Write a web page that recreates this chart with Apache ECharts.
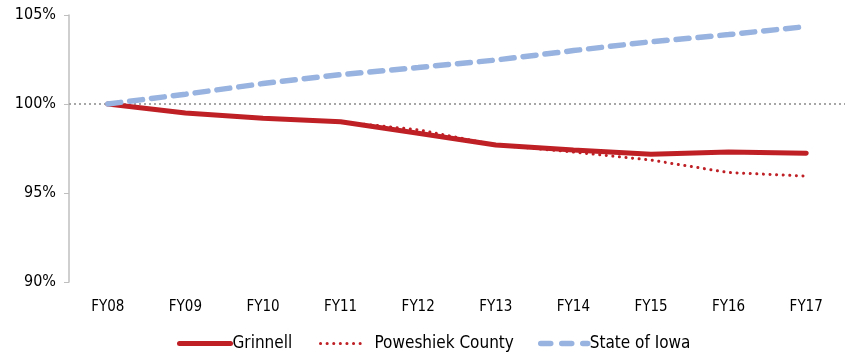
<!DOCTYPE html>
<html>
<head>
<meta charset="utf-8">
<script src="https://cdn.jsdelivr.net/npm/echarts@6/dist/echarts.min.js"></script>
<style>
  html, body { margin: 0; padding: 0; background: #fff; }
  #chart { width: 847px; height: 356px; }
</style>
</head>
<body>
<div id="chart"></div>
<script>
// Fiscal years on the category axis
const years = ['FY08', 'FY09', 'FY10', 'FY11', 'FY12', 'FY13', 'FY14', 'FY15', 'FY16', 'FY17'];

// Index values, FY08 = 100%
const grinnell = [100, 99.5, 99.2, 99.0, 98.36, 97.7, 97.42, 97.18, 97.3, 97.23];
const poweshiek = [100, 99.5, 99.2, 99.0, 98.55, 97.7, 97.3, 96.85, 96.15, 95.95];
const stateOfIowa = [100, 100.55, 101.15, 101.65, 102.05, 102.47, 103.0, 103.5, 103.9, 104.35];

// Value-axis ticks
const yTicks = [90, 95, 100, 105];
const baseline = 100;

const font = "'Liberation Sans Narrow', 'DejaVu Sans Condensed', 'Noto Sans', sans-serif";
const RED = '#BE2026';
const BLUE = '#98B3DF';

// One legend entry per component so each can be placed on its own
function legendEntry(name, left, iconWidth, lineStyle, textPad) {
  return {
    left: left,
    top: 335,
    padding: 0,
    itemWidth: iconWidth,
    itemHeight: 10,
    itemStyle: { opacity: 0 },
    data: [{ name: name, lineStyle: lineStyle, itemStyle: { opacity: 0 } }],
    textStyle: { fontSize: 17, color: '#000', fontFamily: font, padding: [0, 0, 0, textPad] }
  };
}

const dotted = { color: RED, width: 3, type: [0.1, 6.5], cap: 'round' };

const chart = echarts.init(document.getElementById('chart'));
chart.setOption({
  animation: false,
  textStyle: { fontFamily: font },
  grid: { left: 69, right: 2, top: 15, bottom: 74, containLabel: false },
  legend: [
    legendEntry('Grinnell', 177, 51, { width: 5, color: RED, type: 'solid' }, -3),
    legendEntry('Poweshiek County', 319, 43, dotted, 6),
    legendEntry('State of Iowa', 538, 47, { width: 5.5, color: BLUE, type: [10, 11], cap: 'round' }, -3)
  ],
  xAxis: {
    type: 'category',
    data: years,
    boundaryGap: true,
    axisLine: { show: false },
    axisTick: { show: false },
    axisLabel: { color: '#000', fontSize: 15, margin: 18 }
  },
  yAxis: {
    type: 'value',
    min: yTicks[0],
    max: yTicks[yTicks.length - 1],
    interval: 5,
    axisLine: { show: true, lineStyle: { color: '#BFBFBF', width: 1.5 } },
    axisTick: { show: true, length: 5, lineStyle: { color: '#BFBFBF', width: 1 } },
    splitLine: { show: false },
    axisLabel: { color: '#000', fontSize: 16, margin: 13, formatter: '{value}%' }
  },
  series: [
    {
      name: 'Poweshiek County',
      type: 'line',
      data: poweshiek,
      symbol: 'none',
      z: 2,
      lineStyle: dotted,
      itemStyle: { color: RED },
      markLine: {
        silent: true,
        symbol: 'none',
        label: { show: false },
        lineStyle: { color: '#A6A6A6', width: 2, type: [2, 3] },
        data: [{ yAxis: baseline }],
        z: 1
      }
    },
    {
      name: 'Grinnell',
      type: 'line',
      data: grinnell,
      symbol: 'none',
      z: 3,
      lineStyle: { color: RED, width: 5, cap: 'round' },
      itemStyle: { color: RED }
    },
    {
      name: 'State of Iowa',
      type: 'line',
      data: stateOfIowa,
      symbol: 'none',
      z: 4,
      lineStyle: { color: BLUE, width: 5.5, type: [13, 9], cap: 'round' },
      itemStyle: { color: BLUE }
    }
  ]
});
</script>
</body>
</html>
